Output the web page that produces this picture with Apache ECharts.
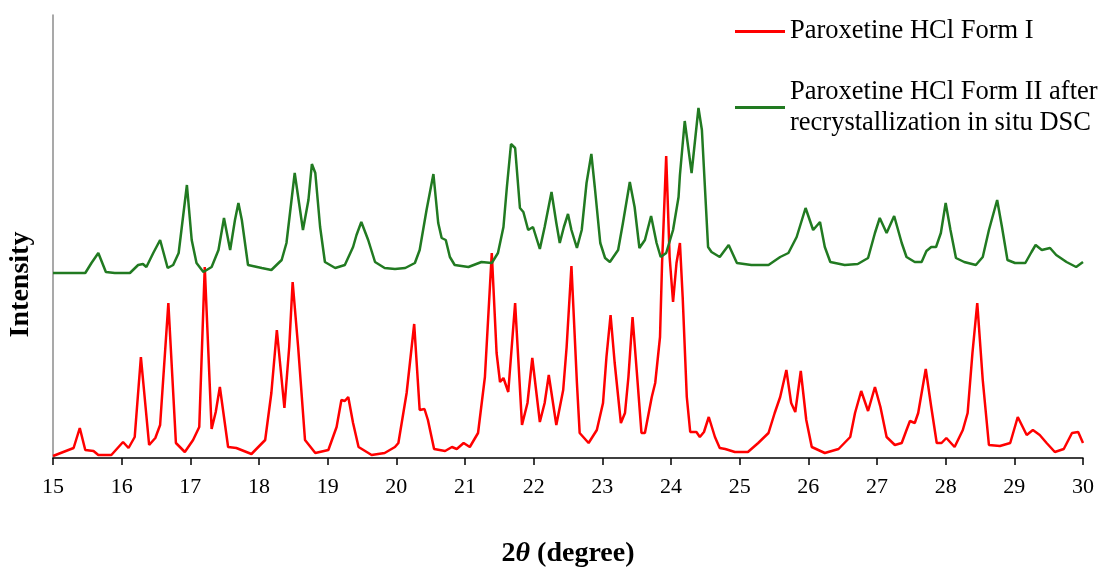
<!DOCTYPE html>
<html>
<head>
<meta charset="utf-8">
<script src="https://cdn.jsdelivr.net/npm/echarts@6/dist/echarts.min.js"></script>
<style>
  html, body { margin: 0; padding: 0; background: #fff; }
  #chart { width: 1103px; height: 570px; }
</style>
</head>
<body>
<div id="chart"></div>
<script>
// Powder X-ray diffraction patterns, intensity in arbitrary units (Form II trace offset upward)
const twoThetaTicks = [15, 16, 17, 18, 19, 20, 21, 22, 23, 24, 25, 26, 27, 28, 29, 30];

const seriesNames = [
  'Paroxetine HCl Form I',
  'Paroxetine HCl Form II after\nrecrystallization in situ DSC'
];

// [2θ (degree), intensity]
const formIPattern = [
  [15.00, 2], [15.30, 10], [15.39, 30], [15.47, 8], [15.59, 7], [15.66, 3], [15.85, 3],
  [16.02, 16], [16.10, 10], [16.19, 21], [16.28, 101], [16.40, 13], [16.49, 20], [16.56, 33],
  [16.68, 155], [16.79, 15], [16.92, 6], [17.04, 18], [17.13, 31], [17.21, 191], [17.31, 29],
  [17.37, 46], [17.43, 71], [17.55, 11], [17.67, 10], [17.89, 4], [18.09, 18], [18.18, 65],
  [18.26, 128], [18.37, 50], [18.44, 111], [18.49, 176], [18.57, 111], [18.67, 18], [18.82, 5],
  [19.01, 8], [19.13, 31], [19.20, 58], [19.25, 57], [19.30, 61], [19.37, 35], [19.45, 11],
  [19.64, 3], [19.83, 5], [19.98, 11], [20.03, 15], [20.15, 65], [20.26, 134], [20.34, 48],
  [20.41, 49], [20.46, 38], [20.55, 9], [20.71, 7], [20.81, 11], [20.88, 9], [20.98, 15],
  [21.07, 11], [21.19, 25], [21.29, 81], [21.39, 205], [21.46, 105], [21.51, 76], [21.56, 80],
  [21.63, 66], [21.73, 155], [21.83, 33], [21.91, 55], [21.98, 100], [22.09, 36], [22.16, 55],
  [22.22, 83], [22.33, 33], [22.43, 68], [22.48, 111], [22.55, 192], [22.63, 75], [22.67, 25],
  [22.80, 15], [22.92, 28], [23.01, 55], [23.06, 101], [23.12, 143], [23.18, 95], [23.27, 35],
  [23.33, 45], [23.38, 81], [23.44, 141], [23.50, 88], [23.57, 25], [23.62, 25], [23.72, 61],
  [23.77, 75], [23.84, 121], [23.87, 195], [23.93, 302], [23.98, 201], [24.03, 156], [24.08, 195],
  [24.13, 215], [24.17, 161], [24.23, 61], [24.28, 26], [24.37, 26], [24.42, 21], [24.48, 26],
  [24.55, 41], [24.64, 21], [24.71, 10], [24.79, 9], [24.93, 6], [25.12, 6], [25.27, 15],
  [25.42, 25], [25.51, 45], [25.59, 61], [25.68, 88], [25.75, 55], [25.81, 46], [25.89, 87],
  [25.97, 38], [26.05, 11], [26.24, 5], [26.44, 9], [26.61, 21], [26.68, 45], [26.77, 67],
  [26.87, 47], [26.97, 71], [27.05, 51], [27.14, 21], [27.26, 13], [27.36, 15], [27.43, 28],
  [27.48, 37], [27.55, 35], [27.60, 45], [27.71, 89], [27.79, 51], [27.87, 15], [27.94, 15],
  [28.01, 20], [28.13, 11], [28.25, 28], [28.32, 45], [28.39, 105], [28.46, 155], [28.54, 78],
  [28.63, 13], [28.79, 12], [28.94, 15], [29.05, 41], [29.18, 23], [29.27, 28], [29.37, 23],
  [29.47, 15], [29.59, 6], [29.72, 9], [29.84, 25], [29.93, 26], [30.00, 15]
];

// [2θ (degree), intensity]
const formIIPattern = [
  [15.00, 185], [15.47, 185], [15.56, 195], [15.66, 205], [15.77, 186], [15.90, 185], [16.12, 185],
  [16.24, 193], [16.31, 194], [16.36, 191], [16.46, 205], [16.56, 218], [16.67, 190], [16.75, 193],
  [16.83, 205], [16.95, 273], [17.02, 218], [17.09, 195], [17.19, 186], [17.31, 191], [17.41, 208],
  [17.49, 240], [17.58, 208], [17.65, 238], [17.70, 255], [17.75, 238], [17.84, 193], [18.04, 190],
  [18.18, 188], [18.33, 198], [18.40, 215], [18.52, 285], [18.64, 228], [18.72, 258], [18.77, 294],
  [18.82, 285], [18.89, 231], [18.96, 196], [19.11, 190], [19.25, 193], [19.37, 211], [19.42, 223],
  [19.49, 236], [19.59, 218], [19.69, 196], [19.83, 190], [19.98, 189], [20.13, 190], [20.27, 195],
  [20.34, 208], [20.44, 248], [20.54, 284], [20.61, 235], [20.66, 220], [20.72, 218], [20.78, 201],
  [20.85, 193], [21.05, 191], [21.24, 196], [21.39, 195], [21.48, 205], [21.56, 231], [21.61, 271],
  [21.67, 314], [21.73, 310], [21.80, 250], [21.85, 246], [21.92, 228], [21.99, 231], [22.09, 209],
  [22.16, 231], [22.26, 266], [22.33, 235], [22.38, 215], [22.44, 231], [22.50, 244], [22.55, 228],
  [22.63, 210], [22.70, 228], [22.77, 275], [22.84, 304], [22.89, 271], [22.97, 215], [23.04, 200],
  [23.11, 196], [23.23, 208], [23.30, 235], [23.40, 276], [23.47, 251], [23.54, 210], [23.62, 218],
  [23.71, 242], [23.79, 215], [23.85, 201], [23.93, 205], [24.03, 228], [24.11, 261], [24.13, 283],
  [24.20, 337], [24.30, 285], [24.40, 350], [24.45, 328], [24.54, 211], [24.59, 206], [24.71, 201],
  [24.84, 213], [24.96, 195], [25.17, 193], [25.42, 193], [25.59, 201], [25.71, 205], [25.83, 221],
  [25.96, 250], [26.07, 228], [26.17, 236], [26.24, 211], [26.32, 196], [26.53, 193], [26.72, 194],
  [26.87, 200], [26.97, 225], [27.04, 240], [27.14, 225], [27.25, 242], [27.36, 215], [27.43, 201],
  [27.55, 196], [27.65, 196], [27.72, 207], [27.79, 211], [27.86, 211], [27.93, 225], [28.00, 255],
  [28.07, 228], [28.15, 200], [28.27, 196], [28.44, 193], [28.54, 201], [28.63, 228], [28.75, 258],
  [28.82, 231], [28.90, 198], [29.01, 195], [29.16, 195], [29.25, 206], [29.31, 213], [29.40, 208],
  [29.52, 210], [29.61, 203], [29.76, 196], [29.90, 191], [30.00, 196]
];

const seriesColors = ['#ff0000', '#217a21'];
const serif = "'Liberation Serif', 'Times New Roman', serif";
const legendLine = 'path://M0,5.5 L50,5.5 L50,8.5 L0,8.5 Z';

const chart = echarts.init(document.getElementById('chart'), null, { renderer: 'canvas' });

chart.setOption({
  animation: false,
  backgroundColor: '#ffffff',
  textStyle: { fontFamily: serif, color: '#000' },
  grid: { left: 53, right: 20, top: 15, bottom: 112, containLabel: false, outerBoundsMode: 'none' },
  legend: [
    {
      data: [seriesNames[0]],
      left: 735, top: 16, padding: 0,
      itemWidth: 50, itemHeight: 14, itemGap: 0,
      icon: legendLine,
      textStyle: { fontFamily: serif, fontSize: 26.5, color: '#000', lineHeight: 31 }
    },
    {
      data: [seriesNames[1]],
      left: 735, top: 61, padding: 0,
      itemWidth: 50, itemHeight: 14, itemGap: 0,
      icon: legendLine,
      textStyle: { fontFamily: serif, fontSize: 26.5, color: '#000', lineHeight: 31, padding: [31, 0, 0, 0] }
    }
  ],
  xAxis: {
    type: 'value',
    min: twoThetaTicks[0],
    max: twoThetaTicks[twoThetaTicks.length - 1],
    interval: 1,
    axisLine: { onZero: false, lineStyle: { color: '#000', width: 1.5 } },
    axisTick: { show: true, inside: false, length: 7, lineStyle: { color: '#000', width: 1.5 } },
    axisLabel: {
      fontFamily: serif, fontSize: 22, color: '#000', margin: 18,
      formatter: v => (twoThetaTicks.includes(v) ? String(v) : '')
    },
    splitLine: { show: false },
    name: '{b|2}{i|θ}{b| (degree)}',
    nameLocation: 'middle',
    nameGap: 82,
    nameTextStyle: {
      rich: {
        b: { fontFamily: serif, fontSize: 28, fontWeight: 'bold', color: '#000' },
        i: { fontFamily: serif, fontSize: 28, fontWeight: 'bold', fontStyle: 'italic', color: '#000' }
      }
    }
  },
  yAxis: {
    type: 'value',
    min: 0,
    max: 443,
    axisLine: { show: true, lineStyle: { color: '#8c8c8c', width: 1.5 } },
    axisTick: { show: false },
    axisLabel: { show: false },
    splitLine: { show: false },
    name: 'Intensity',
    nameLocation: 'middle',
    nameGap: 18,
    nameTextStyle: {
      fontFamily: serif, fontSize: 28, fontWeight: 'bold', color: '#000',
      padding: [0, 96, 0, 0]
    }
  },
  series: [
    {
      name: seriesNames[0], type: 'line', data: formIPattern,
      symbol: 'none', smooth: false,
      lineStyle: { color: seriesColors[0], width: 2.5 },
      itemStyle: { color: seriesColors[0] }
    },
    {
      name: seriesNames[1], type: 'line', data: formIIPattern,
      symbol: 'none', smooth: false,
      lineStyle: { color: seriesColors[1], width: 2.5 },
      itemStyle: { color: seriesColors[1] }
    }
  ]
});
</script>
</body>
</html>
